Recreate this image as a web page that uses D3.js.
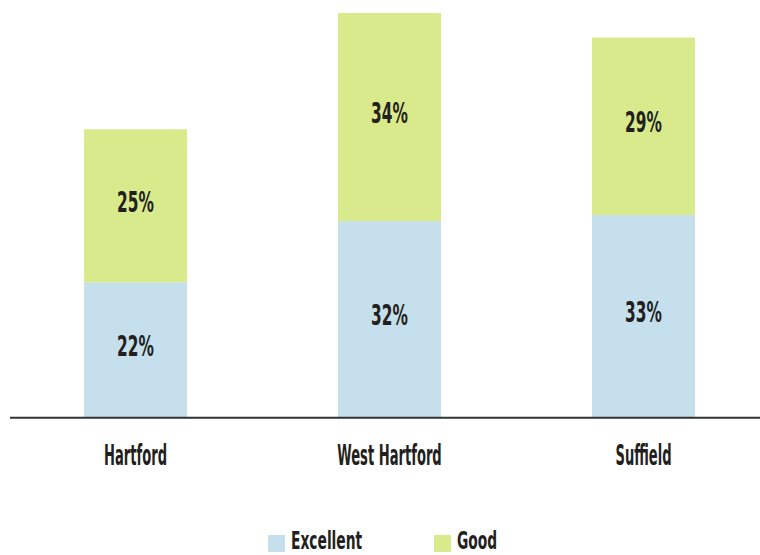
<!DOCTYPE html>
<html><head><meta charset="utf-8">
<script src="https://cdn.jsdelivr.net/npm/d3@7"></script>
<style>
html,body{margin:0;padding:0;background:#fff;}
text{font-family:"Liberation Sans Narrow","DejaVu Sans Condensed",sans-serif;font-weight:bold;fill:#231f20;}
</style></head>
<body><svg id="c" width="760" height="555"></svg>
<script>
const categories = ["Hartford", "West Hartford", "Suffield"];
const seriesNames = ["Excellent", "Good"];
const excellent = [22, 32, 33];
const good = [25, 34, 29];
const colors = ["#c5e0ec", "#d9ea8c"];

const svg = d3.select("#c");
const x = d3.scaleBand().domain(categories).range([8.5, 770.5]).paddingInner(0.5945).paddingOuter(0.29725);
const y = d3.scaleLinear().domain([0, 66]).range([417, 13]);

const rows = categories.map((c, i) => ({cat: c, Excellent: excellent[i], Good: good[i]}));
const stack = d3.stack().keys(seriesNames)(rows);

function condensedText(sel, xf, yf, sx) {
  sel.attr("transform", d => `translate(${xf(d)},${yf(d)}) scale(${sx},1)`);
}

stack.forEach((layer, li) => {
  const g = svg.append("g");
  g.selectAll("rect").data(layer).enter().append("rect")
    .attr("x", d => x(d.data.cat))
    .attr("width", x.bandwidth())
    .attr("y", d => y(d[1]))
    .attr("height", d => y(d[0]) - y(d[1]))
    .attr("fill", colors[li]);
  g.selectAll("text").data(layer).enter().append("text")
    .attr("text-anchor", "middle")
    .attr("font-size", 28)
    .attr("dy", "0.36em")
    .text(d => (d[1] - d[0]) + "%")
    .call(condensedText, d => x(d.data.cat) + x.bandwidth() / 2, d => (y(d[0]) + y(d[1])) / 2 - 4, 0.61);
});

// axis baseline
svg.append("line").attr("x1", 10).attr("x2", 760).attr("y1", 417.7).attr("y2", 417.7)
  .attr("stroke", "#333").attr("stroke-width", 2);

// category labels
svg.append("g").selectAll("text").data(categories).enter().append("text")
  .attr("text-anchor", "middle").attr("font-size", 28)
  .text(d => d)
  .call(condensedText, d => x(d) + x.bandwidth() / 2, d => 465, 0.52);

// legend
const legendX = [268, 434];
const lg = svg.append("g");
seriesNames.forEach((s, i) => {
  lg.append("rect").attr("x", legendX[i]).attr("y", 535).attr("width", 17).attr("height", 17).attr("fill", colors[i]);
  lg.append("text").attr("font-size", 24).attr("text-anchor", "start")
    .attr("transform", `translate(${legendX[i] + 23},548.5) scale(0.64,1)`).text(s);
});
</script></body></html>
